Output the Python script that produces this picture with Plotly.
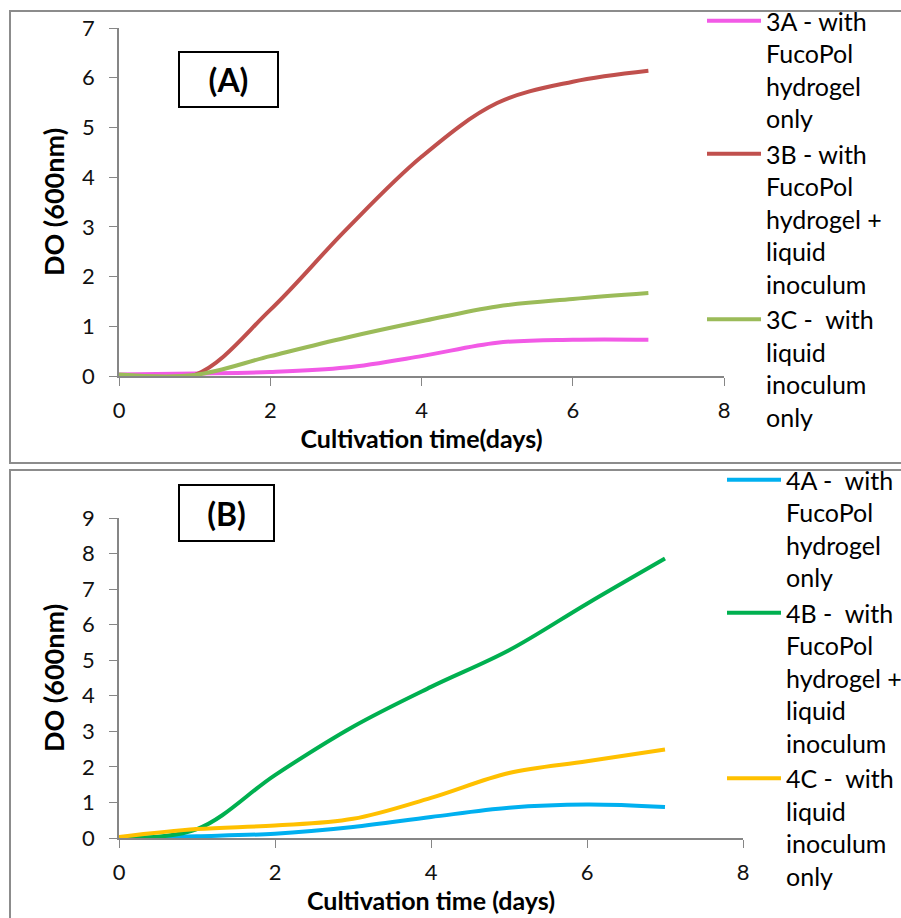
import plotly.graph_objects as go

W, H = 901, 918

days = [0, 1, 2, 3, 4, 5, 6, 7]

# panel A
a_3a = [0.03, 0.05, 0.08, 0.17, 0.40, 0.67, 0.73, 0.73]
a_3b = [0.00, 0.02, 1.33, 2.94, 4.41, 5.49, 5.92, 6.14]
a_3c = [0.03, 0.02, 0.40, 0.77, 1.10, 1.40, 1.55, 1.67]
names_a = ["3A - with<br>FucoPol<br>hydrogel<br>only",
           "3B - with<br>FucoPol<br>hydrogel +<br>liquid<br>inoculum",
           "3C -  with<br>liquid<br>inoculum<br>only"]
colors_a = ["#F25AE6", "#C0504D", "#9BBB59"]

# panel B
b_4a = [0.00, 0.05, 0.12, 0.31, 0.59, 0.85, 0.94, 0.87]
b_4b = [0.00, 0.25, 1.77, 3.13, 4.25, 5.28, 6.59, 7.86]
b_4c = [0.03, 0.25, 0.35, 0.54, 1.13, 1.83, 2.16, 2.49]
names_b = ["4A -  with<br>FucoPol<br>hydrogel<br>only",
           "4B -  with<br>FucoPol<br>hydrogel +<br>liquid<br>inoculum",
           "4C -  with<br>liquid<br>inoculum<br>only"]
colors_b = ["#00B0F0", "#00B050", "#FFC000"]

FONT = "Lato"

fig = go.Figure()

for ys, nm, col in zip([a_3a, a_3b, a_3c], names_a, colors_a):
    fig.add_trace(go.Scatter(x=days, y=ys, name=nm, mode="lines",
                             line=dict(color=col, width=4, shape="spline", smoothing=1),
                             xaxis="x", yaxis="y", legend="legend"))
for ys, nm, col in zip([b_4a, b_4b, b_4c], names_b, colors_b):
    fig.add_trace(go.Scatter(x=days, y=ys, name=nm, mode="lines",
                             line=dict(color=col, width=4, shape="spline", smoothing=1),
                             xaxis="x2", yaxis="y2", legend="legend2"))

def px(x):
    return x / W

def py(y):
    return 1 - y / H

axis_common = dict(showline=True, linecolor="#868686", linewidth=1.5, ticks="outside",
                   tickcolor="#868686", ticklen=8, showgrid=False, zeroline=False,
                   tickfont=dict(family=FONT, size=22, color="#111"))
xt_font = dict(family=FONT, size=25, color="black")
yt_font = dict(family=FONT, size=27, color="black")

fig.update_layout(
    width=W, height=H, margin=dict(l=0, r=0, t=0, b=0, autoexpand=False),
    plot_bgcolor="white", paper_bgcolor="white",
    xaxis=dict(domain=[px(119), px(724)], range=[0, 8], dtick=2, anchor="y",
               ticklabelstandoff=6,
               title=dict(text="<b>Cultivation time(days)</b>", standoff=8, font=xt_font),
               **axis_common),
    yaxis=dict(domain=[py(376), py(28)], range=[0, 7], dtick=1, anchor="x",
               ticklabelstandoff=10,
               title=dict(text="<b>DO (600nm)</b>", standoff=10, font=yt_font),
               **axis_common),
    xaxis2=dict(domain=[px(119), px(743)], range=[0, 8], dtick=2, anchor="y2",
                ticklabelstandoff=6,
                title=dict(text="<b>Cultivation time (days)</b>", standoff=8, font=xt_font),
                **axis_common),
    yaxis2=dict(domain=[py(838), py(518)], range=[0, 9], dtick=1, anchor="x2",
                ticklabelstandoff=10,
                title=dict(text="<b>DO (600nm)</b>", standoff=10, font=yt_font),
                **axis_common),
    legend=dict(x=px(702), y=py(-2), xanchor="left", yanchor="top", valign="top",
                itemwidth=54, font=dict(family=FONT, size=25, color="black"),
                bgcolor="rgba(0,0,0,0)", tracegroupgap=0),
    legend2=dict(x=px(722), y=py(457), xanchor="left", yanchor="top", valign="top",
                 itemwidth=54, font=dict(family=FONT, size=25, color="black"),
                 bgcolor="rgba(0,0,0,0)", tracegroupgap=0),
    shapes=[
        dict(type="rect", xref="paper", yref="paper", x0=px(10), x1=px(905), y0=py(463), y1=py(11),
             line=dict(color="#8c8c8c", width=2), layer="below"),
        dict(type="rect", xref="paper", yref="paper", x0=px(10), x1=px(905), y0=py(925), y1=py(470),
             line=dict(color="#8c8c8c", width=2), layer="below"),
    ],
    annotations=[
        dict(text="<b>(A)</b>", xref="paper", yref="paper", x=px(177.5), y=py(50.5),
             showarrow=False, width=97, height=53, borderwidth=2, bordercolor="black",
             borderpad=0, bgcolor="white", font=dict(family=FONT, size=32, color="black")),
        dict(text="<b>(B)</b>", xref="paper", yref="paper", x=px(177.5), y=py(513),
             showarrow=False, width=93, height=54, borderwidth=2, bordercolor="black",
             borderpad=0, bgcolor="white", font=dict(family=FONT, size=32, color="black")),
    ],
)

fig.write_html(
    "out.html",
    config={"displayModeBar": False},
    post_script="document.body.style.margin='0';document.documentElement.style.overflow='hidden';",
)
